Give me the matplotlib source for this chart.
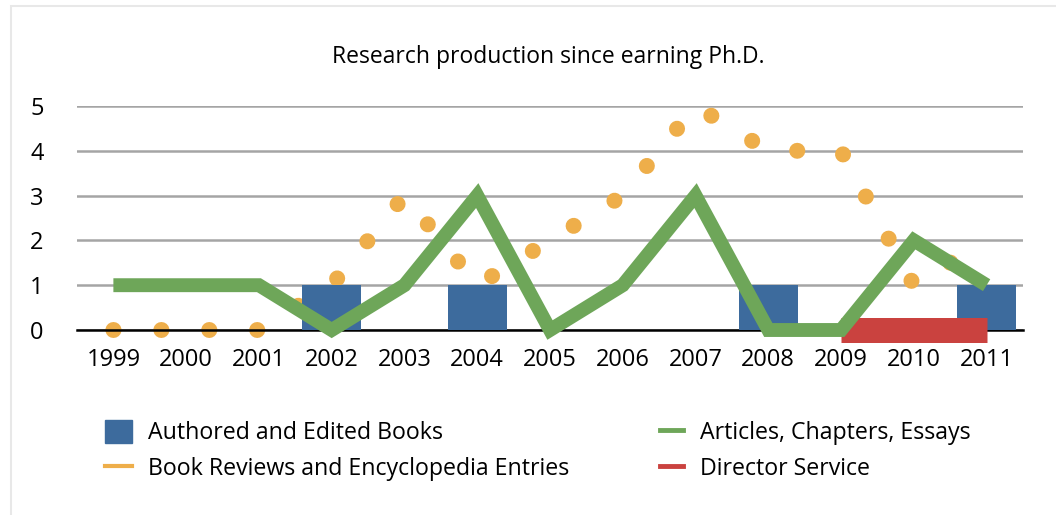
import numpy as np
import matplotlib
matplotlib.use("Agg")
import matplotlib.pyplot as plt
from matplotlib.patches import Patch, Rectangle
from matplotlib.lines import Line2D

plt.rcParams["font.family"] = ["Open Sans", "DejaVu Sans"]

years = ["1999", "2000", "2001", "2002", "2003", "2004", "2005",
         "2006", "2007", "2008", "2009", "2010", "2011"]
books = [0, 0, 0, 1, 0, 1, 0, 0, 0, 1, 0, 0, 1]
reviews = [0, 0, 0, 1, 3, 1, 2, 3, 5, 4, 4, 1, 2]
articles = [1, 1, 1, 0, 1, 3, 0, 1, 3, 0, 0, 2, 1]
director_years = ["2009", "2010", "2011"]
director = [0, 0, 0]

BLUE = "#3D6B9D"
ORANGE = "#EEAE4A"
GREEN = "#6EA659"
RED = "#CA423F"

W, H = 1056, 515
fig = plt.figure(figsize=(W / 100, H / 100), dpi=100)
ax = fig.add_axes([77 / W, 1 - 330 / H, (1023 - 77) / W, (330 - 106) / H])

x = np.arange(len(years))

# 书评: 圆点线
ax.plot(x, reviews, color=ORANGE, lw=11.5, linestyle=(0, (0.01, 2.99)),
        dash_capstyle="round", zorder=1.5, clip_on=False)

ax.bar(x, books, width=0.81, color=BLUE, zorder=2)

dx = [years.index(y) for y in director_years]
ax.plot(dx, director, color=RED, lw=18, solid_capstyle="butt", zorder=3, clip_on=False)

ax.plot(x, articles, color=GREEN, lw=10, solid_capstyle="butt",
        solid_joinstyle="miter", zorder=4, clip_on=False)

ax.set_xlim(-0.5, len(years) - 0.5)
ax.set_ylim(0, 5)
ax.set_yticks(range(6))
ax.set_xticks(x)
ax.set_xticklabels(years)
ax.tick_params(length=0, labelsize=17)
ax.tick_params(axis="y", pad=24)
ax.tick_params(axis="x", pad=13)
for s in ["top", "right", "left"]:
    ax.spines[s].set_visible(False)
ax.spines["bottom"].set_color("black")
ax.spines["bottom"].set_linewidth(1.8)
ax.spines["bottom"].set_zorder(1.6)
ax.yaxis.grid(True, color="#A5A5A5", lw=1.8)
ax.set_axisbelow(True)

fig.text(548 / W, 1 - 57 / H, "Research production since earning Ph.D.",
         ha="center", va="center", fontsize=16.5)

# 外框
fig.add_artist(Rectangle((11 / W, -0.1), 1.2, 1 - 6 / H + 0.1, transform=fig.transFigure,
                         fill=False, edgecolor="#E8E8E8", lw=1.5))

h_books = Patch(color=BLUE)
h_rev = Line2D([], [], color=ORANGE, lw=3)
h_art = Line2D([], [], color=GREEN, lw=3.5)
h_dir = Line2D([], [], color=RED, lw=3.5)
kw = dict(loc="upper left", frameon=False, fontsize=16.7, borderpad=0, borderaxespad=0,
          handleheight=1.16, labelspacing=0.45)
fig.legend([h_books, h_rev], ["Authored and Edited Books", "Book Reviews and Encyclopedia Entries"],
           bbox_to_anchor=(105 / W, 1 - 420 / H), handlelength=1.16, handletextpad=0.69, **kw)
fig.legend([h_art, h_dir], ["Articles, Chapters, Essays", "Director Service"],
           bbox_to_anchor=(660 / W, 1 - 420 / H), handlelength=0.99, handletextpad=0.73, **kw)

fig.savefig("out.png", dpi=100)
